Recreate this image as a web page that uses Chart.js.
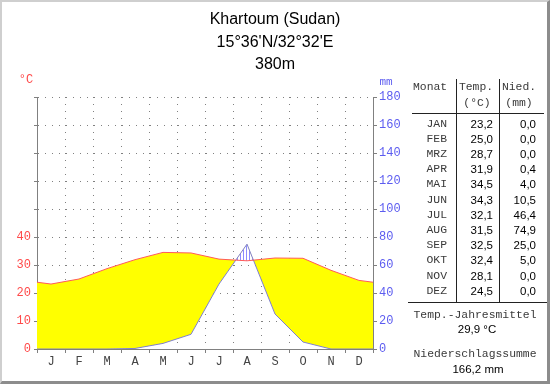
<!DOCTYPE html>
<html><head><meta charset="utf-8">
<script src="https://cdn.jsdelivr.net/npm/chart.js@4/dist/chart.umd.min.js"></script>
<style>
html,body{margin:0;padding:0;background:#fff;}
#wrap{position:relative;width:550px;height:384px;overflow:hidden;background:#fff;}
#c{position:absolute;left:0;top:0;}
.t{position:absolute;white-space:nowrap;}
.ln{position:absolute;background:#222;}
#frame{position:absolute;left:0;top:0;width:550px;height:384px;box-sizing:border-box;border-top:2px solid #cfcfcf;border-left:2px solid #cfcfcf;border-right:3px solid #8c8c8c;border-bottom:3px solid #8c8c8c;pointer-events:none;}
</style></head>
<body><div id="wrap"><canvas id="c" width="550" height="384"></canvas><div id="frame"></div></div>
<script>
// ---- data ----
const titleLines = ['Khartoum (Sudan)', "15°36'N/32°32'E", '380m'];
const monthLetters = ['J','F','M','A','M','J','J','A','S','O','N','D'];
const monthNames = ['JAN','FEB','MRZ','APR','MAI','JUN','JUL','AUG','SEP','OKT','NOV','DEZ'];
const tempC = [23.2,25.0,28.7,31.9,34.5,34.3,32.1,31.5,32.5,32.4,28.1,24.5];
const precipMm = [0.0,0.0,0.0,0.4,4.0,10.5,46.4,74.9,25.0,5.0,0.0,0.0];
const tempTicks = [0,10,20,30,40];
const mmTicks = [0,20,40,60,80,100,120,140,160,180];
const annualMeanC = 29.9;
const annualSumMm = 166.2;

const fmt = v => v.toFixed(1).replace('.', ',');
const MONO = '"Liberation Mono","Courier New",monospace';
const SANS = '"Liberation Sans",Arial,sans-serif';

// points at month centres, wrapped with Dec before Jan and Jan after Dec (clipped at the plot edges)
const wrap = arr => [{x:-0.5, y:arr[11]}, ...arr.map((v,i)=>({x:i+0.5, y:v})), {x:12.5, y:arr[0]}];

// vertical hatching for the humid period
const pc = document.createElement('canvas'); pc.width = 3; pc.height = 4;
const pctx = pc.getContext('2d'); pctx.fillStyle = '#8c8cff'; pctx.fillRect(0,0,1,4);
const hatch = pctx.createPattern(pc, 'repeat');

const gridCol = '#808080';
new Chart(document.getElementById('c'), {
  type: 'line',
  data: { datasets: [
    { label:'Temperatur', data: wrap(tempC), yAxisID:'yT', borderColor:'#ff5a5a', borderWidth:1,
      pointRadius:0, tension:0, clip:0, fill:{ target:1, above:'#ffff00', below: hatch } },
    { label:'Niederschlag', data: wrap(precipMm), yAxisID:'yP', borderColor:'#8080c8', borderWidth:1,
      pointRadius:0, tension:0, clip:0, fill:false }
  ]},
  options: {
    responsive:false, animation:false,
    layout:{ padding:{ top:97, left:0, right:0, bottom:0 } },
    plugins:{ legend:{display:false}, title:{display:false}, tooltip:{enabled:false},
      filler:{ drawTime:'beforeDatasetsDraw' } },
    scales:{
      x:{ type:'linear', min:0, max:12, z:1,
        afterFit: s => { s.height = 35; },
        ticks:{ stepSize:1, autoSkip:false, maxRotation:0, labelOffset:14, padding:2,
          color:'#444', font:{family:MONO, size:12},
          callback: v => (v >= 0 && v < 12 && Number.isInteger(v)) ? monthLetters[v] : '' },
        grid:{ color:gridCol, tickLength:4, tickColor:gridCol },
        border:{ color:gridCol, dash:[1,6] } },
      yT:{ type:'linear', position:'left', min:0, max:90, z:1,
        afterFit: s => { s.width = 37; },
        ticks:{ stepSize:10, padding:3, color:'#ff4a4a', font:{family:MONO, size:12},
          callback: v => tempTicks.includes(v) ? String(v) : '' },
        grid:{ color:gridCol, tickLength:3, tickColor:gridCol },
        border:{ color:gridCol, dash:[1,6] } },
      yP:{ type:'linear', position:'right', min:0, max:180,
        afterFit: s => { s.width = 177; },
        ticks:{ stepSize:20, padding:2, color:'#5c5cf0', font:{family:MONO, size:12},
          callback: v => mmTicks.includes(v) ? String(v) : '' },
        grid:{ drawOnChartArea:false, tickLength:4, color:gridCol, tickColor:gridCol },
        border:{ color:gridCol } }
    }
  }
});

// ---- text overlays ----
const W = document.getElementById('wrap');
function txt(s, x, y, align, font, size, color){
  const d = document.createElement('div'); d.className = 't'; d.textContent = s;
  const h = Math.round(size*1.3);
  d.style.font = size + 'px ' + font; d.style.color = color;
  d.style.lineHeight = h + 'px'; d.style.height = h + 'px'; d.style.top = (y - h/2) + 'px';
  if (align === 'left') d.style.left = x + 'px';
  else if (align === 'right') d.style.right = (550 - x) + 'px';
  else { d.style.left = x + 'px'; d.style.transform = 'translateX(-50%)'; }
  W.appendChild(d);
}
function line(x, y, w, h){
  const d = document.createElement('div'); d.className = 'ln';
  d.style.left = x+'px'; d.style.top = y+'px'; d.style.width = w+'px'; d.style.height = h+'px';
  W.appendChild(d);
}
const titleY = [18, 41, 63];
titleLines.forEach((s,i) => txt(s, 275, titleY[i], 'center', SANS, 16, '#000'));
txt('°C', 26, 80, 'center', MONO, 12, '#ff4a4a');
txt('mm', 386, 82, 'center', MONO, 11, '#5c5cf0');

// table
const TM = 11.4, TS = 11.5, tcol = '#3a3a3a';
txt('Monat', 413, 87, 'left', MONO, TM, tcol);
txt('Temp.', 476, 87, 'center', MONO, TM, tcol);
txt('(°C)', 477, 103, 'center', MONO, TM, tcol);
txt('Nied.', 519, 87, 'center', MONO, TM, tcol);
txt('(mm)', 519, 103, 'center', MONO, TM, tcol);
line(456, 79, 1, 224);
line(499, 79, 1, 224);
line(412, 113, 132, 1);
line(408, 302, 139, 1);
monthNames.forEach((m,i) => {
  const y = 124 + i*15.2;
  txt(m, 447, y, 'right', MONO, TM, tcol);
  txt(fmt(tempC[i]), 493, y, 'right', SANS, TS, '#000');
  txt(fmt(precipMm[i]), 536, y, 'right', SANS, TS, '#000');
});
txt('Temp.-Jahresmittel', 475, 315, 'center', MONO, TM, tcol);
txt(fmt(annualMeanC) + ' °C', 477, 329, 'center', SANS, TS, '#000');
txt('Niederschlagssumme', 475, 354, 'center', MONO, TM, tcol);
txt(fmt(annualSumMm) + ' mm', 478, 369, 'center', SANS, TS, '#000');
</script>
</body></html>
